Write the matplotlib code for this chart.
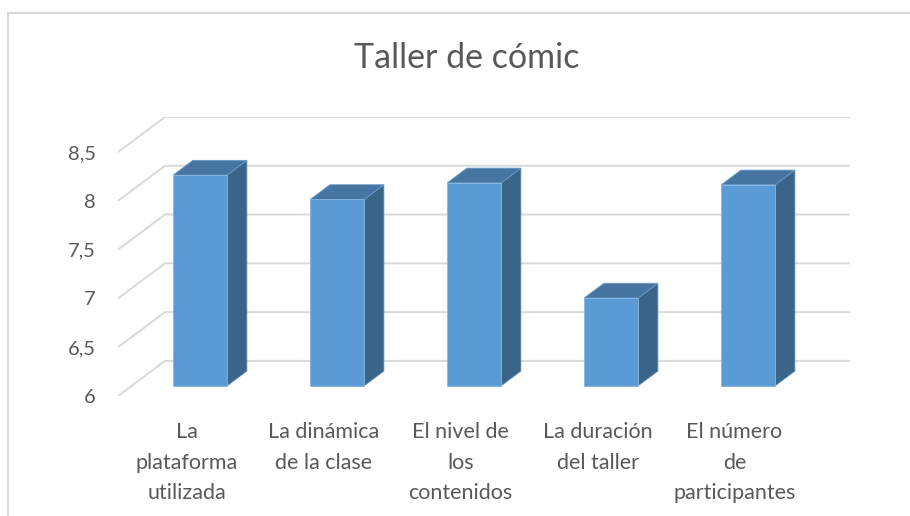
import matplotlib.pyplot as plt
from matplotlib.patches import Polygon, Rectangle
import numpy as np

plt.rcParams['font.family'] = ['Lato', 'DejaVu Sans']

# ---------------------------------------------------------------------------
# data
# ---------------------------------------------------------------------------
categories = ["La\nplataforma\nutilizada", "La dinámica\nde la clase",
              "El nivel de\nlos\ncontenidos", "La duración\ndel taller",
              "El número\nde\nparticipantes"]
values = np.array([8.16, 7.91, 8.08, 6.90, 8.06])
y_ticks = [6, 6.5, 7, 7.5, 8, 8.5]
y_tick_labels = ["6", "6,5", "7", "7,5", "8", "8,5"]

# oblique "3D" look: offset of the full floor depth (data units)
DX, DY = 0.343, 0.36
Z0, Z1 = 0.29, 0.71   # depth range occupied by the bars
BAR_W = 0.394
Y0 = 6

TEXT = '#595959'
GRID = '#d9d9d9'
FRONT = '#5B9BD5'
TOP = '#4675A2'
SIDE = '#3A6488'

fig = plt.figure(figsize=(9.1, 5.16), dpi=100)
ax = fig.add_axes([118 / 910, 1 - 396 / 516, (850 - 118) / 910, (396 - 117) / 516])
ax.set_xlim(-0.5, 4.5 + DX)
ax.set_ylim(Y0, 8.5 + DY)
ax.patch.set_alpha(0)
for s in ax.spines.values():
    s.set_visible(False)

# walls: diagonal on the side wall + horizontal on the back wall
for v in y_ticks:
    ax.plot([-0.5, -0.5 + DX, 4.5 + DX], [v, v + DY, v + DY],
            color=GRID, lw=1.4, zorder=1, solid_capstyle='butt')

# bars
x = np.arange(len(values))
xf = x + Z0 * DX
ax.bar(xf, values - Y0, bottom=Y0 + Z0 * DY, width=BAR_W, color=FRONT,
       edgecolor='#86b5e0', lw=0.6, zorder=4)
ddx = (Z1 - Z0) * DX
ddy = (Z1 - Z0) * DY
for xc, v in zip(xf, values):
    xl, xr = xc - BAR_W / 2, xc + BAR_W / 2
    yb, yt = Y0 + Z0 * DY, v + Z0 * DY
    top = Polygon([(xl, yt), (xr, yt), (xr + ddx, yt + ddy), (xl + ddx, yt + ddy)],
                  closed=True, facecolor=TOP, edgecolor='#6a9bc9', lw=0.6, zorder=3)
    side = Polygon([(xr, yb), (xr, yt), (xr + ddx, yt + ddy), (xr + ddx, yb + ddy)],
                   closed=True, facecolor=SIDE, edgecolor='#5d8cb8', lw=0.6, zorder=3)
    ax.add_patch(side)
    ax.add_patch(top)

ax.set_yticks(y_ticks, y_tick_labels)
ax.set_xticks(x, categories)
ax.tick_params(axis='both', length=0, colors=TEXT)
ax.tick_params(axis='y', pad=16, labelsize=14.5)
ax.tick_params(axis='x', pad=19, labelsize=15.5)
for lbl in ax.get_xticklabels():
    lbl.set_linespacing(1.65)

fig.text(467 / 910, 1 - 68 / 516, "Taller de cómic", ha='center', va='baseline',
         fontsize=24.5, color=TEXT, fontweight='normal')

# chart frame
fig.patches.append(Rectangle((7.5 / 910, -0.05), 1.1, 1 - 12.5 / 516 + 0.05,
                             transform=fig.transFigure, fill=False,
                             edgecolor=GRID, lw=1.5))

fig.savefig("out.png", dpi=100)
